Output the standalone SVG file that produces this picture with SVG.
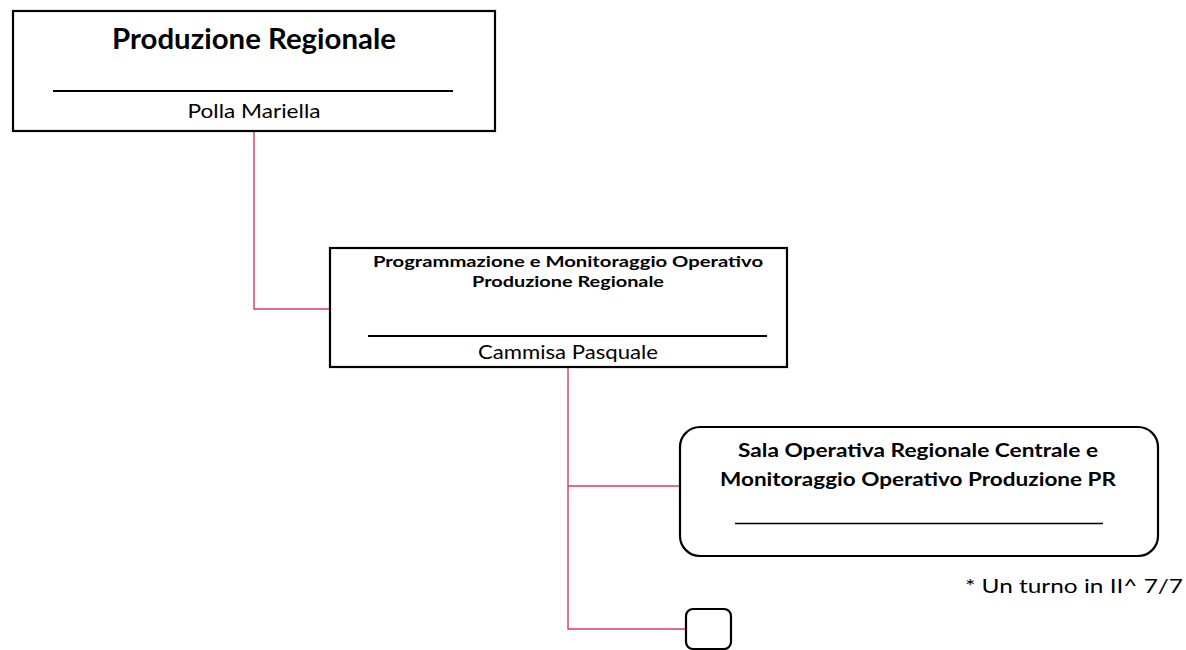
<svg xmlns="http://www.w3.org/2000/svg" width="1186" height="650" viewBox="0 0 1186 650">
<style>
.box{fill:#fff;stroke:#000;stroke-width:2.2}
.rule{stroke:#000;stroke-width:2}
.rule2{stroke:#000;stroke-width:1.3}
.conn{fill:none;stroke:#E0385F;stroke-width:1.4}
text{font-family:Lato,"Open Sans","Liberation Sans",sans-serif;fill:#000;text-anchor:middle}
.b{font-weight:bold}
</style>
<rect width="1186" height="650" fill="#fff"/>
<g id="connectors">
<path class="conn" d="M254 131 V309 H330"/>
<path class="conn" d="M568 367 V629 H686"/>
<path class="conn" d="M568 486 H680"/>
</g>
<g id="node-produzione">
<rect class="box" x="13" y="11" width="482" height="120"/>
<text class="b" x="254" y="49" font-size="28" textLength="284" lengthAdjust="spacingAndGlyphs">Produzione Regionale</text>
<line class="rule" x1="53" y1="91" x2="453" y2="91"/>
<text x="254" y="118" font-size="19" textLength="133" lengthAdjust="spacingAndGlyphs">Polla Mariella</text>
</g>
<g id="node-programmazione">
<rect class="box" x="330" y="248" width="457" height="119"/>
<text class="b" x="568" y="267" font-size="16" textLength="390" lengthAdjust="spacingAndGlyphs">Programmazione e Monitoraggio Operativo</text>
<text class="b" x="568" y="287" font-size="16" textLength="192" lengthAdjust="spacingAndGlyphs">Produzione Regionale</text>
<line class="rule" x1="368" y1="336" x2="767" y2="336"/>
<text x="568" y="359" font-size="19" textLength="180" lengthAdjust="spacingAndGlyphs">Cammisa Pasquale</text>
</g>
<g id="node-sala">
<rect class="box" x="680" y="427" width="478" height="129" rx="20" ry="20"/>
<text class="b" x="918" y="457" font-size="18" textLength="360" lengthAdjust="spacingAndGlyphs">Sala Operativa Regionale Centrale e</text>
<text class="b" x="918" y="486" font-size="18" textLength="396" lengthAdjust="spacingAndGlyphs">Monitoraggio Operativo Produzione PR</text>
<line class="rule2" x1="735" y1="523.5" x2="1103" y2="523.5"/>
</g>
<g id="node-empty">
<rect class="box" x="686" y="609" width="45" height="40" rx="7" ry="7"/>
</g>
<g id="note">
<text x="1074" y="593" font-size="20" textLength="218" lengthAdjust="spacingAndGlyphs">* Un turno in II^ 7/7</text>
</g>
</svg>
